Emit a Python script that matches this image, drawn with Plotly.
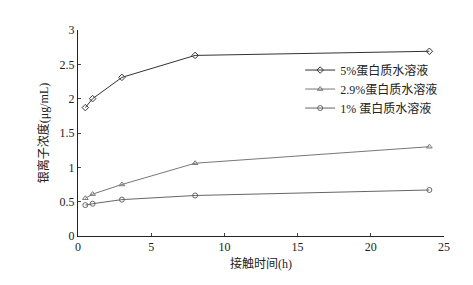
import plotly.graph_objects as go

time_h = [0.5, 1, 3, 8, 24]
s5 = [1.87, 2.0, 2.31, 2.63, 2.69]
s29 = [0.55, 0.61, 0.75, 1.06, 1.30]
s1 = [0.45, 0.47, 0.53, 0.59, 0.67]
names = ["5%蛋白质水溶液", "2.9%蛋白质水溶液", "1% 蛋白质水溶液"]
x_ticks = [0, 5, 10, 15, 20, 25]
y_ticks = [0, 0.5, 1, 1.5, 2, 2.5, 3]

FONT = "Times New Roman, Liberation Serif, Noto Sans CJK SC, serif"

fig = go.Figure()
for y, name, sym, col in [
    (s5, names[0], "diamond-open", "#333333"),
    (s29, names[1], "triangle-up-open", "#777777"),
    (s1, names[2], "circle-open", "#666666"),
]:
    fig.add_trace(go.Scatter(
        x=time_h, y=y, name=name, mode="lines+markers",
        line=dict(color=col, width=1),
        marker=dict(symbol=sym, size=5, color=col, line=dict(width=1, color=col)),
    ))

fig.update_layout(
    width=473, height=285,
    margin=dict(l=78, r=29, t=30, b=49),
    paper_bgcolor="white", plot_bgcolor="white",
    font=dict(family=FONT, size=12, color="#222222"),
    showlegend=True,
    legend=dict(x=0.607, y=0.876, xanchor="left", yanchor="top",
                bgcolor="rgba(0,0,0,0)", itemwidth=30, tracegroupgap=0,
                font=dict(size=12, family=FONT)),
    xaxis=dict(range=[0, 25], tickvals=x_ticks, ticks="inside", ticklen=3,
               showline=True, linecolor="#222222", linewidth=1, showgrid=False,
               zeroline=False, title=dict(text="接触时间(h)", standoff=6,
               font=dict(size=12))),
    yaxis=dict(range=[0, 3], tickvals=y_ticks, ticks="inside", ticklen=3,
               showline=True, linecolor="#222222", linewidth=1, showgrid=False,
               zeroline=False, title=dict(text="银离子浓度(μg/mL)", standoff=8,
               font=dict(size=12))),
)

fig.write_html("out.html")
